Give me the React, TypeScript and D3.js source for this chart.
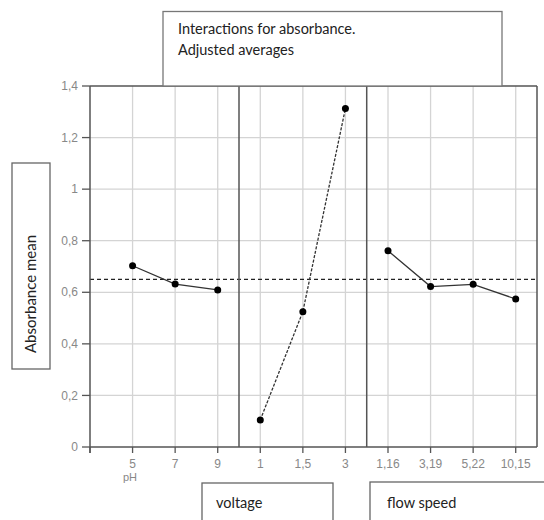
import React from "react";
import * as d3 from "d3";

const width = 544;
const height = 520;

// factor levels and adjusted means
const phLevels = ["5", "7", "9"];
const phMeans = [0.703, 0.632, 0.609];
const voltageLevels = ["1", "1,5", "3"];
const voltageMeans = [0.105, 0.525, 1.313];
const flowLevels = ["1,16", "3,19", "5,22", "10,15"];
const flowMeans = [0.761, 0.622, 0.631, 0.574];
const grandMean = 0.65;
const yTicks = [0, 0.2, 0.4, 0.6, 0.8, 1, 1.2, 1.4];

const plot = { left: 90, right: 537, top: 86, bottom: 447 };
const tickFont = "Liberation Sans";
const boxFont = "Lato";

const App = () => {
  const labels = [...phLevels, ...voltageLevels, ...flowLevels];
  const x = d3.scaleLinear().domain([0, labels.length + 0.5]).range([plot.left, plot.right]);
  const y = d3.scaleLinear().domain([0, 1.4]).range([plot.bottom, plot.top]);

  const groups = [
    { start: 1, means: phMeans, dash: null },
    { start: 1 + phLevels.length, means: voltageMeans, dash: "3,1.5" },
    { start: 1 + phLevels.length + voltageLevels.length, means: flowMeans, dash: null },
  ];
  const separators = [phLevels.length + 0.5, phLevels.length + voltageLevels.length + 0.5];

  const fmt = (v: number) => (v === 0 ? "0" : v === 1 ? "1" : String(v).replace(".", ","));
  const tickIdx = d3.range(0, labels.length + 1);

  return (
    <svg width={width} height={height} style={{ position: "absolute", left: 0, top: 0 }}>
      <rect width={width} height={height} fill="#fff" />
      {/* grid */}
      {yTicks.slice(1, -1).map((t) => (
        <line key={"gy" + t} x1={plot.left} x2={plot.right} y1={y(t)} y2={y(t)} stroke="#d4d4d4" strokeWidth={1.3} />
      ))}
      {tickIdx.slice(1).map((k) => (
        <line key={"gx" + k} x1={x(k)} x2={x(k)} y1={plot.top} y2={plot.bottom} stroke="#d4d4d4" strokeWidth={1.3} />
      ))}
      {/* mean line */}
      <line x1={plot.left} x2={plot.right} y1={y(grandMean)} y2={y(grandMean)} stroke="#222" strokeWidth={1.3} strokeDasharray="4,3" />
      {/* frame */}
      <line x1={plot.left} x2={plot.right} y1={plot.top} y2={plot.top} stroke="#555" strokeWidth={1.5} />
      <line x1={plot.right} x2={plot.right} y1={plot.top} y2={plot.bottom} stroke="#555" strokeWidth={1.5} />
      {separators.map((s) => (
        <line key={"s" + s} x1={x(s)} x2={x(s)} y1={plot.top} y2={plot.bottom} stroke="#555" strokeWidth={1.5} />
      ))}
      <line x1={plot.left} x2={plot.left} y1={plot.top} y2={plot.bottom + 6} stroke="#555" strokeWidth={1.5} />
      <line x1={plot.left} x2={plot.right} y1={plot.bottom} y2={plot.bottom} stroke="#555" strokeWidth={1.5} />
      {/* y axis */}
      {yTicks.map((t) => (
        <g key={"yt" + t}>
          <line x1={plot.left - 8} x2={plot.left} y1={y(t)} y2={y(t)} stroke="#555" strokeWidth={1.3} />
          <text x={plot.left - 12} y={y(t)} dy="0.35em" textAnchor="end" fontFamily={tickFont} fontSize={12} fill="#888">
            {fmt(t)}
          </text>
        </g>
      ))}
      {/* x axis */}
      {tickIdx.map((k) => (
        <line key={"xt" + k} x1={x(k)} x2={x(k)} y1={plot.bottom} y2={plot.bottom + 6} stroke="#555" strokeWidth={1.3} />
      ))}
      {labels.map((l, i) => (
        <text key={"xl" + i} x={x(i + 1)} y={468} textAnchor="middle" fontFamily={tickFont} fontSize={12} fill="#888">
          {l}
        </text>
      ))}
      <text x={130} y={481} textAnchor="middle" fontFamily={tickFont} fontSize={11} fill="#888">pH</text>
      {/* series */}
      {groups.map((g, gi) => {
        const l = d3
          .line<number>()
          .x((d, i) => x(g.start + i))
          .y((d) => y(d));
        return (
          <g key={"g" + gi}>
            <path d={l(g.means) || ""} fill="none" stroke="#333" strokeWidth={1.3} strokeDasharray={g.dash || undefined} />
            {g.means.map((m, i) => (
              <circle key={i} cx={x(g.start + i)} cy={y(m)} r={3.5} fill="#000" />
            ))}
          </g>
        );
      })}
      {/* title box */}
      <rect x={163} y={11.5} width={339} height={plot.top - 11.5} fill="#fff" stroke="#777" strokeWidth={1.3} />
      <text x={178} y={34} fontFamily={boxFont} fontSize={14.5} fill="#222">Interactions for absorbance.</text>
      <text x={178} y={55} fontFamily={boxFont} fontSize={14.5} fill="#222">Adjusted averages</text>
      {/* y label box */}
      <rect x={12} y={163} width={38} height={206} fill="#fff" stroke="#666" strokeWidth={1.3} />
      <text transform={`translate(36,353) rotate(-90)`} textAnchor="start" fontFamily={boxFont} fontSize={15} fill="#222">
        Absorbance mean
      </text>
      {/* factor boxes */}
      <rect x={202} y={483} width={131} height={50} fill="#fff" stroke="#666" strokeWidth={1.3} />
      <text x={216} y={508} fontFamily={boxFont} fontSize={14.5} fill="#222">voltage</text>
      <rect x={370} y={482} width={190} height={50} fill="#fff" stroke="#666" strokeWidth={1.3} />
      <text x={387} y={508} fontFamily={boxFont} fontSize={14.5} fill="#222">flow speed</text>
    </svg>
  );
};

export default App;
